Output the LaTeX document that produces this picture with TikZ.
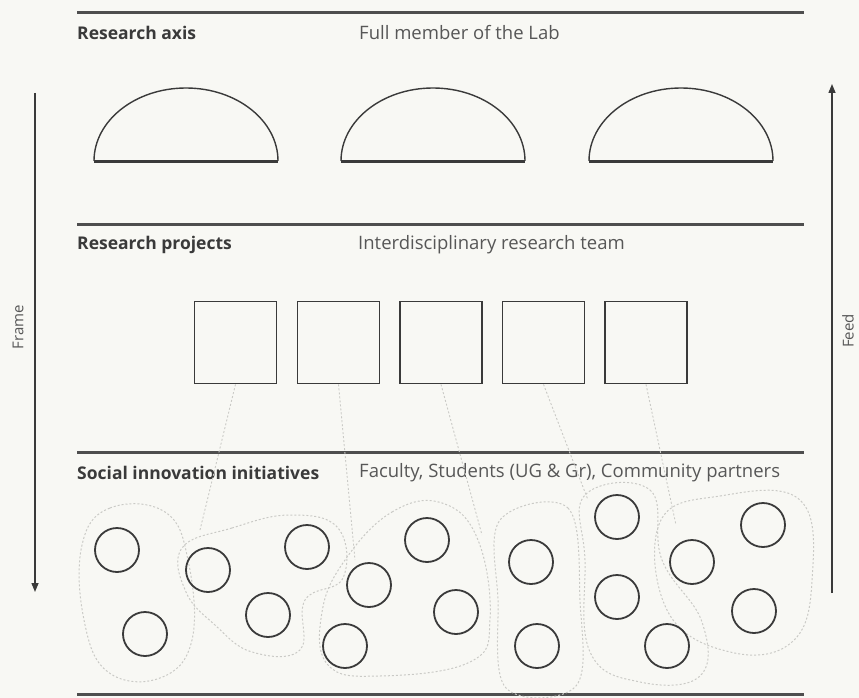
\documentclass[tikz,border=0pt]{standalone}
\usepackage{fontspec}
\setmainfont{Open Sans}
\usetikzlibrary{arrows.meta}
\definecolor{bg}{HTML}{F8F8F4}
\definecolor{ink}{HTML}{3A3A3A}
\definecolor{faint}{HTML}{CACAC6}
\begin{document}
\begin{tikzpicture}[x=1pt,y=-1pt,
  rule/.style={line width=3pt,draw=ink!90},
  dome/.style={line width=1.4pt,draw=ink},
  proj/.style={draw=ink,line width=1.8pt,minimum width=82pt,minimum height=82pt,inner sep=0pt},
  init/.style={circle,draw=ink,line width=1.8pt,minimum size=44pt,inner sep=0pt},
  cluster/.style={draw=faint,line width=1pt,dash pattern=on 2pt off 2pt},
  link/.style={draw=faint,line width=0.9pt,dash pattern=on 2pt off 2pt},
  flow/.style={draw=ink,line width=1.4pt,-{Triangle[length=9pt,width=7pt]}},
  head/.style={anchor=west,font=\fontsize{17.5}{19}\selectfont\bfseries,text=ink,inner sep=0pt},
  sub/.style={anchor=west,font=\fontsize{18.5}{20}\selectfont,text=ink!85,inner sep=0pt},
  side/.style={font=\fontsize{15}{17}\selectfont,text=ink!85,inner sep=0pt,rotate=90}
]
\useasboundingbox[fill=bg] (0,0) rectangle (859,698);

% rules
\coordinate (r1a) at (77,13);  \coordinate (r1b) at (804,13);
\coordinate (r2a) at (77,224); \coordinate (r2b) at (804,224);
\coordinate (r3a) at (77,452); \coordinate (r3b) at (804,452);
\coordinate (r4a) at (77,694); \coordinate (r4b) at (804,694);
\draw[rule] (r1a) -- (r1b);
\draw[rule] (r2a) -- (r2b);
\draw[rule] (r3a) -- (r3b);
\draw[rule] (r4a) -- (r4b);

% headings
\node[head] (h1) at (77,33) {Research axis};
\node[sub]  (s1) at (359,33) {Full member of the Lab};
\node[head] (h2) at (77,245) {Research projects};
\node[sub]  (s2) at (358,245) {Interdisciplinary research team};
\node[head] (h3) at (77,473) {Social innovation initiatives};
\node[sub]  (s3) at (359,473) {Faculty, Students (UG \& Gr), Community partners};

% side arrows
\coordinate (fa) at (35,93);  \coordinate (fb) at (35,592);
\coordinate (ea) at (832,593); \coordinate (eb) at (832,84);
\draw[flow] (fa) -- (fb);
\draw[flow] (ea) -- (eb);
\node[side] (frame) at (18,327) {Frame};
\node[side] (feed) at (848,331) {Feed};

% domes
\foreach \n/\x in {1/94,2/341,3/589}{
  \coordinate (d\n) at (\x,161);
  \draw[dome] (d\n) arc[start angle=180,end angle=360,x radius=92,y radius=73];
  \draw[ink,line width=3pt] (d\n) -- ++(184,0);
}

% projects
\foreach \n/\x in {1/235.5,2/338.5,3/441,4/543.5,5/646}{
  \node[proj] (p\n) at (\x,342.5) {};
}

% clusters
\draw[cluster] plot[smooth cycle,tension=0.7] coordinates {(82,545) (110,508) (165,512) (188,560) (192,640) (160,678) (108,672) (84,620)};
\draw[cluster] plot[smooth cycle,tension=0.7] coordinates {(182,548) (232,528) (290,515) (338,528) (343,578) (305,600) (300,650) (252,652) (215,625) (186,592)};
\draw[cluster] plot[smooth cycle,tension=0.7] coordinates {(345,560) (392,512) (442,503) (478,540) (490,620) (470,662) (380,676) (328,665) (322,612)};
\draw[cluster] plot[smooth cycle,tension=0.6] coordinates {(500,520) (568,508) (580,600) (576,686) (506,688) (498,600)};
\draw[cluster] plot[smooth cycle,tension=0.7] coordinates {(585,495) (650,490) (662,560) (702,622) (700,676) (640,682) (590,652) (585,560)};
\draw[cluster] plot[smooth cycle,tension=0.7] coordinates {(660,522) (720,496) (800,500) (812,580) (792,642) (730,652) (668,612)};

% links from projects to clusters
\coordinate (c1) at (200,530);
\coordinate (c2) at (355,560);
\coordinate (c3) at (482,535);
\coordinate (c4) at (588,500);
\coordinate (c5) at (676,525);
\foreach \n in {1,...,5}{ \draw[link] (p\n.south) -- (c\n); }

% initiatives
\node[init] (i1)  at (117,550) {};
\node[init] (i2)  at (208,570) {};
\node[init] (i3)  at (307,547) {};
\node[init] (i4)  at (427,540) {};
\node[init] (i5)  at (369,585) {};
\node[init] (i6)  at (268,615) {};
\node[init] (i7)  at (145,634) {};
\node[init] (i8)  at (345,646) {};
\node[init] (i9)  at (456,612) {};
\node[init] (i10) at (531,562) {};
\node[init] (i11) at (537,646) {};
\node[init] (i12) at (617,517) {};
\node[init] (i13) at (692,562) {};
\node[init] (i14) at (763,525) {};
\node[init] (i15) at (617,597) {};
\node[init] (i16) at (667,646) {};
\node[init] (i17) at (754,611) {};
\end{tikzpicture}
\end{document}
